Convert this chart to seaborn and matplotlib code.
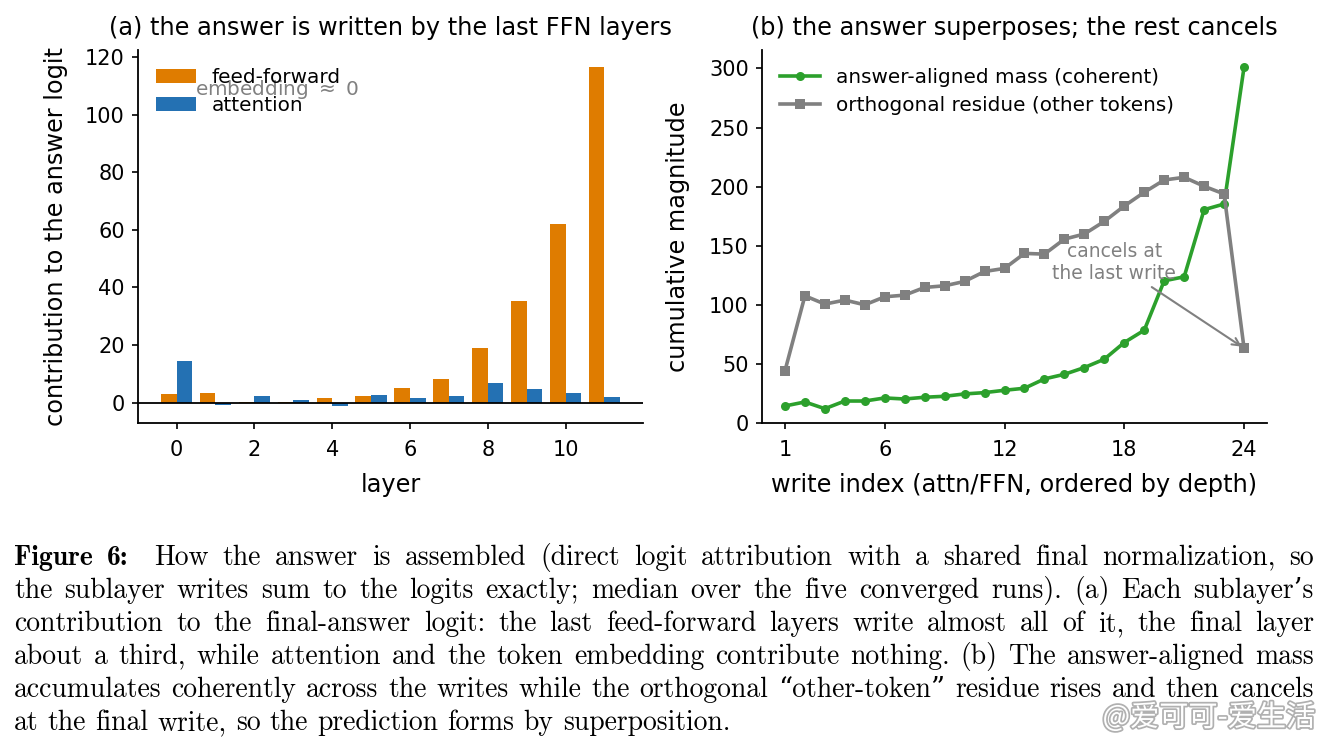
import matplotlib
matplotlib.use("Agg")
import matplotlib.pyplot as plt
import matplotlib.patheffects as pe
import seaborn as sns
import pandas as pd

# panel (a): per-layer contribution to the answer logit
layers = list(range(12))
ffn_contrib = [2.9, 3.2, 0.1, 0.1, 1.5, 2.2, 5.0, 8.1, 19.1, 35.4, 62.1, 116.5]
attn_contrib = [14.3, -0.8, 2.2, 0.8, -1.2, 2.5, 1.5, 2.2, 6.7, 4.6, 3.2, 1.8]

# panel (b): cumulative magnitudes over the 24 writes
write_idx = list(range(1, 25))
answer_mass = [14.4, 17.8, 12.1, 18.6, 18.6, 21.2, 20.3, 21.8, 22.6, 24.6, 25.7, 27.7,
               29.4, 37.3, 41.2, 46.9, 54.0, 68.1, 78.5, 120.3, 123.7, 180.5, 185.3, 301.1]
residue = [44.1, 107.6, 100.6, 104.0, 100.0, 106.8, 108.2, 114.7, 116.1, 119.8, 128.2, 130.8,
           143.5, 142.9, 155.6, 159.9, 170.6, 183.6, 195.2, 205.6, 207.9, 200.3, 193.8, 63.3]

caption_lines = [
    "How the answer is assembled (direct logit attribution with a shared final normalization, so",
    "the sublayer writes sum to the logits exactly; median over the five converged runs). (a) Each sublayer\u2019s",
    "contribution to the final-answer logit: the last feed-forward layers write almost all of it, the final layer",
    "about a third, while attention and the token embedding contribute nothing. (b) The answer-aligned mass",
    "accumulates coherently across the writes while the orthogonal \u201cother-token\u201d residue rises and then cancels",
    "at the final write, so the prediction forms by superposition.",
]

ORANGE = "#df7c00"
BLUE = "#2471b3"
GREEN = "#2ca02c"
GRAY = "#808080"

plt.rcParams["font.family"] = ["DejaVu Sans"]
plt.rcParams["axes.linewidth"] = 1.3
plt.rcParams["xtick.major.width"] = 1.2
plt.rcParams["ytick.major.width"] = 1.2
plt.rcParams["xtick.major.size"] = 4.5
plt.rcParams["ytick.major.size"] = 4.5
plt.rcParams["xtick.major.pad"] = 8
plt.rcParams["ytick.major.pad"] = 5

W, H = 1329, 745
fig = plt.figure(figsize=(W / 100, H / 100), dpi=100)
ax1 = fig.add_axes([138 / W, 1 - 423 / H, 505 / W, 373 / H])
ax2 = fig.add_axes([762 / W, 1 - 423 / H, 505 / W, 373 / H])

LABEL = 17.3
TICK = 15

# ---- (a) bars
df_bar = pd.DataFrame({
    "layer": layers * 2,
    "value": ffn_contrib + attn_contrib,
    "component": ["feed-forward"] * 12 + ["attention"] * 12,
})
sns.barplot(data=df_bar, x="layer", y="value", hue="component",
            hue_order=["feed-forward", "attention"],
            palette={"feed-forward": ORANGE, "attention": BLUE},
            saturation=1, width=0.8, errorbar=None, native_scale=True, ax=ax1)
ax1.axhline(0, color="black", lw=1.3, zorder=3)
ax1.set_xlim(-0.99, 11.99)
ax1.set_ylim(-7.1, 122.4)
ax1.set_xticks(range(0, 12, 2))
ax1.set_yticks(range(0, 121, 20))
ax1.set_xlabel("layer", fontsize=LABEL, labelpad=9)
ax1.set_ylabel("contribution to the answer logit", fontsize=LABEL, labelpad=12)
ax1.set_title("(a) the answer is written by the last FFN layers", fontsize=LABEL, pad=11)
ax1.tick_params(labelsize=TICK)
ax1.legend(loc="upper left", frameon=False, fontsize=14.4, labelspacing=0.45)
ax1.text(0.113, 0.893, "embedding $\\approx$ 0", transform=ax1.transAxes,
         color=GRAY, fontsize=14.4, ha="left", va="center")

# ---- (b) lines
sns.lineplot(x=write_idx, y=answer_mass, color=GREEN, lw=2.6, marker="o",
             markersize=6.5, markeredgewidth=0, label="answer-aligned mass (coherent)", ax=ax2)
sns.lineplot(x=write_idx, y=residue, color=GRAY, lw=2.6, marker="s",
             markersize=6.5, markeredgewidth=0, label="orthogonal residue (other tokens)", ax=ax2)
ax2.set_xlim(-0.15, 25.15)
ax2.set_ylim(0, 315.6)
ax2.set_xticks([1, 6, 12, 18, 24])
ax2.set_yticks(range(0, 301, 50))
ax2.set_xlabel("write index (attn/FFN, ordered by depth)", fontsize=LABEL, labelpad=9)
ax2.set_ylabel("cumulative magnitude", fontsize=LABEL, labelpad=14)
ax2.set_title("(b) the answer superposes; the rest cancels", fontsize=LABEL, pad=11)
ax2.tick_params(labelsize=TICK)
ax2.legend(loc="upper left", frameon=False, fontsize=14.4, labelspacing=0.45)
ax2.annotate("cancels at\nthe last write", xy=(write_idx[-1], residue[-1]), xytext=(17.5, 136),
             ha="center", va="center", color=GRAY, fontsize=13.5,
             arrowprops=dict(arrowstyle="->", color=GRAY, lw=1.5))

sns.despine(fig=fig)

# ---- caption, justified line by line
renderer = fig.canvas.get_renderer()
cap_size = 19.9
regular = dict(family=["cmr10", "DejaVu Serif"], fontsize=cap_size)
bold = dict(family=["cmb10", "DejaVu Serif"], fontsize=cap_size)
left_px, right_px = 14, 1314
base_y = 565
line_gap = 33
space_px = cap_size * 100 / 72 * 0.333


def place_words(tokens, y_px, justify):
    items = []
    for word, kw, extra in tokens:
        t = fig.text(0, 1 - y_px / H, word, va="baseline", ha="left", **kw)
        w = t.get_window_extent(renderer).width
        items.append((t, w, extra))
    total = sum(w + e for _, w, e in items)
    n = len(items)
    gap = (right_px - left_px - total) / (n - 1) if justify else space_px
    x = left_px
    for t, w, e in items:
        t.set_x(x / W)
        x += w + e + gap


for i, line in enumerate(caption_lines):
    tokens = [(w, regular, 0) for w in line.split(" ")]
    if i == 0:
        tokens = [("Figure", bold, 0), ("6:", bold, 12)] + tokens
    place_words(tokens, base_y + i * line_gap, justify=(i < len(caption_lines) - 1))

# watermark
fig.text(1315 / W, 1 - 718 / H, "@爱可可-爱生活", ha="right", va="center", fontsize=21,
         color="white", family=["Noto Sans CJK SC", "DejaVu Sans"],
         path_effects=[pe.withStroke(linewidth=2.5, foreground="#b0b0b0")])

fig.savefig("out.png", dpi=100)
